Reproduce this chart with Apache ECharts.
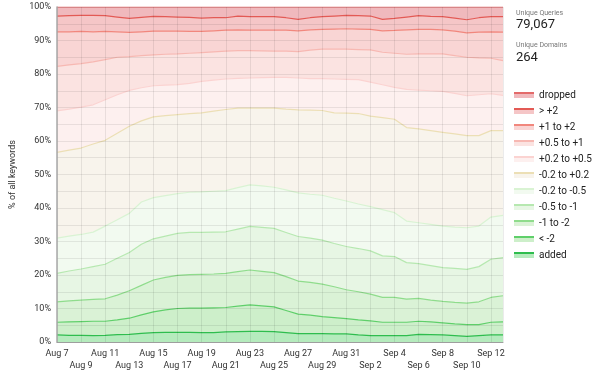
<!DOCTYPE html>
<html><head><meta charset="utf-8">
<script src="https://cdn.jsdelivr.net/npm/echarts@6/dist/echarts.min.js"></script>
<style>html,body{margin:0;padding:0;background:#fff}#c{width:600px;height:372px}</style>
</head><body><div id="c"></div>
<script>
const categories = ['Aug 7','Aug 8','Aug 9','Aug 10','Aug 11','Aug 12','Aug 13','Aug 14','Aug 15','Aug 16','Aug 17','Aug 18','Aug 19','Aug 20','Aug 21','Aug 22','Aug 23','Aug 24','Aug 25','Aug 26','Aug 27','Aug 28','Aug 29','Aug 30','Aug 31','Sep 1','Sep 2','Sep 3','Sep 4','Sep 5','Sep 6','Sep 7','Sep 8','Sep 9','Sep 10','Sep 11','Sep 12','Sep 13'];

const added    = [2.1,2.0,2.0,1.9,2.0,2.2,2.3,2.6,2.8,2.9,2.9,2.9,2.8,2.8,3.0,3.1,3.2,3.2,3.1,2.8,2.5,2.5,2.5,2.4,2.4,2.1,1.9,1.9,1.9,1.9,2.3,2.2,2.1,1.9,1.7,1.9,2.1,2.1];
const lt2      = [3.8,4.0,4.1,4.3,4.2,4.4,4.8,5.5,6.2,6.7,7.1,7.2,7.3,7.4,7.3,7.6,7.9,7.6,7.4,6.6,5.8,5.5,5.1,4.9,4.6,4.5,4.4,4.0,4.0,4.0,3.9,3.8,3.6,3.5,3.5,3.3,3.8,3.9];
const m1to2    = [6.1,6.3,6.4,6.5,6.7,7.4,8.2,8.8,9.5,9.7,9.9,10.0,10.1,10.1,10.2,10.3,10.4,10.3,10.2,10.1,9.9,9.8,9.7,9.2,8.6,8.4,8.0,7.4,7.4,6.9,6.8,6.5,6.4,6.4,6.4,6.8,7.4,7.8];
const m05to1   = [8.5,8.9,9.3,9.8,10.3,11.0,11.4,12.3,12.3,12.3,12.5,12.6,12.5,12.5,12.4,12.7,13.0,13.1,13.2,13.2,13.3,13.2,13.1,12.9,12.9,12.9,12.9,12.4,12.2,10.9,10.4,10.3,10.1,10.2,10.1,10.5,11.4,11.4];
const m02to05  = [10.5,10.4,10.3,10.3,11.4,11.5,11.7,12.6,12.3,12.1,11.9,12.0,12.1,12.2,12.3,12.4,12.4,12.4,12.3,12.7,13.0,13.1,13.4,13.5,13.6,13.3,13.2,13.8,13.1,12.4,12.2,12.3,12.4,12.3,12.4,12.1,12.6,12.6];
const neutral  = [25.6,25.7,25.8,26.3,25.6,25.8,26.0,24.2,24.1,23.9,23.6,23.5,23.6,23.9,24.2,23.7,22.9,23.2,23.6,24.1,24.8,25.1,25.3,25.5,26.2,27.0,27.0,27.5,27.9,27.9,28.0,28.0,28.0,27.8,27.5,27.0,25.8,25.3];
const p02to05  = [12.4,12.2,12.2,11.7,12.1,11.5,10.7,9.9,9.3,9.1,8.9,9.0,9.4,9.3,9.1,8.9,9.0,9.1,9.2,9.5,9.5,9.4,9.5,10.1,10.1,10.1,10.2,9.8,9.5,11.4,11.6,11.9,12.2,12.1,11.9,12.2,11.0,10.5];
const p05to1   = [13.3,13.2,13.0,12.8,12.0,11.2,10.1,9.6,9.2,9.2,9.2,9.0,8.6,8.4,8.3,8.3,8.2,8.0,7.8,7.8,7.9,8.5,8.8,8.9,9.0,9.0,9.6,9.7,10.2,10.5,10.8,11.0,11.2,11.3,11.5,11.0,10.6,10.4];
const p1to2    = [10.3,9.9,9.6,9.0,8.4,7.6,7.2,7.1,7.1,6.9,6.8,6.5,6.3,6.3,6.3,6.2,6.1,6.2,6.3,6.3,6.2,6.1,5.9,6.0,6.1,6.1,6.1,6.4,6.8,7.3,7.3,7.3,7.2,7.3,7.3,7.7,7.9,8.5];
const gt2      = [4.7,4.8,4.8,4.9,4.7,4.4,4.2,4.3,4.4,4.3,4.2,4.2,4.0,3.9,3.7,4.1,4.0,4.0,4.0,3.7,3.4,3.6,3.8,3.9,4.0,4.0,4.0,3.4,3.6,3.8,4.1,3.9,3.9,3.9,3.9,4.3,4.5,4.6];
const dropped  = [2.7,2.6,2.5,2.5,2.6,3.0,3.4,3.1,2.8,2.9,3.0,3.1,3.3,3.2,3.2,2.7,2.9,2.9,2.9,3.2,3.7,3.2,2.9,2.7,2.5,2.6,2.7,3.7,3.4,3.0,2.6,2.8,2.9,3.3,3.8,3.2,2.9,2.9];

const seriesNames = ['added','< -2','-1 to -2','-0.5 to -1','-0.2 to -0.5','-0.2 to +0.2','+0.2 to +0.5','+0.5 to +1','+1 to +2','> +2','dropped'];
const seriesValues = [added, lt2, m1to2, m05to1, m02to05, neutral, p02to05, p05to1, p1to2, gt2, dropped];
const yTicks = [0,10,20,30,40,50,60,70,80,90,100];
const uniqueQueries = '79,067';
const uniqueDomains = '264';

const lineColors = ['#2ebd4e','#5fcf6a','#8fdc8c','#b6e8b0','#d9f3d3','#ecdfb5','#fbd3d1','#f7b8b2','#f1877d','#e35a55','#e36a6a'];
const areaColors = ['#b5ebbd','#cdefca','#daf2d6','#e7f6e4','#f2faf0','#f8f4ec','#fdf0ef','#fbe3e1','#f9d5d4','#f5c6c7','#f0b9bd'];

const chart = echarts.init(document.getElementById('c'), null, {renderer:'canvas'});
const series = seriesNames.map((n, i) => ({
  name: n, type: 'line', stack: 'all', data: seriesValues[i],
  symbol: 'none', showSymbol: false, smooth: false,
  lineStyle: {color: lineColors[i], width: 1.2},
  itemStyle: {color: lineColors[i]},
  areaStyle: {color: areaColors[i], opacity: 1},
  emphasis: {disabled: true}, z: 2
}));
const legendData = seriesNames.map((n, i) => ({
  name: n,
  itemStyle: {color: {type:'linear', x:0, y:0, x2:0, y2:1, colorStops:[
    {offset:0, color: lineColors[i]}, {offset:0.3, color: lineColors[i]},
    {offset:0.3, color: areaColors[i]}, {offset:1, color: areaColors[i]}]}}
})).reverse();

chart.setOption({
  animation: false,
  backgroundColor: '#fff',
  textStyle: {fontFamily: 'Roboto'},
  grid: {left: 48, right: 97, top: 7, bottom: 29},
  xAxis: {
    type: 'category', data: categories, boundaryGap: false, z: 3,
    axisLine: {lineStyle: {color: '#9e9e9e', width: 1}},
    axisTick: {show: false},
    axisLabel: {interval: 0, showMinLabel: true, showMaxLabel: true, hideOverlap: false,
      color: '#333', fontSize: 9, margin: 6, lineHeight: 12,
      formatter: function (v) {
        const i = categories.indexOf(v);
        if (i % 2 === 1) return '';
        return (i % 4 === 2) ? '\n' + v : v;
      }},
    splitLine: {show: true, interval: 1, lineStyle: {color: 'rgba(0,0,0,0.08)', width: 1}}
  },
  yAxis: {
    type: 'value', min: 0, max: 100, interval: 5, z: 3,
    name: '% of all keywords', nameLocation: 'middle', nameGap: 40,
    nameTextStyle: {color: '#333', fontSize: 9},
    axisLine: {show: true, lineStyle: {color: '#a8a8a8', width: 1.5}},
    axisTick: {show: false},
    axisLabel: {color: '#333', fontSize: 9, margin: 6,
      formatter: function (v) { return yTicks.indexOf(v) >= 0 ? v + '%' : ''; }},
    splitLine: {show: true, lineStyle: {color: 'rgba(0,0,0,0.08)', width: 1}}
  },
  legend: {
    orient: 'vertical', left: 514, top: 89, icon: 'rect',
    itemWidth: 20, itemHeight: 6, itemGap: 4, padding: 0,
    selectedMode: false,
    textStyle: {fontSize: 10, color: '#222', lineHeight: 12, padding: [0,0,0,0]},
    data: legendData
  },
  graphic: [
    {type: 'text', left: 516, top: 10, style: {text: 'Unique Queries', fontSize: 7, fill: '#777', fontFamily: 'Roboto'}},
    {type: 'text', left: 516, top: 18, style: {text: uniqueQueries, fontSize: 13, fill: '#222', fontFamily: 'Roboto'}},
    {type: 'text', left: 516, top: 42, style: {text: 'Unique Domains', fontSize: 7, fill: '#777', fontFamily: 'Roboto'}},
    {type: 'text', left: 516, top: 51, style: {text: uniqueDomains, fontSize: 13, fill: '#222', fontFamily: 'Roboto'}}
  ],
  series: series
});
</script></body></html>
